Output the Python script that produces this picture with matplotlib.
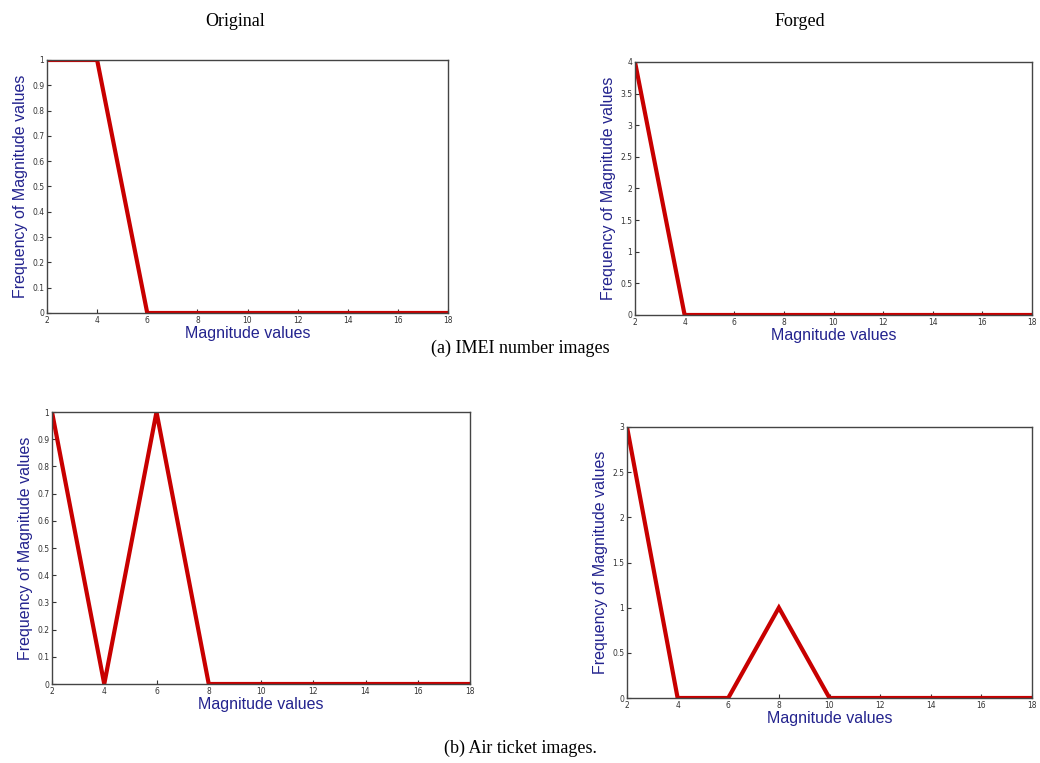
import matplotlib.pyplot as plt
import numpy as np

# magnitude bins shared by all four panels
mag = [2, 4, 6, 8, 10, 12, 14, 16, 18]

imei_orig = [1, 1, 0, 0, 0, 0, 0, 0, 0]
imei_forged = [4, 0, 0, 0, 0, 0, 0, 0, 0]
air_orig = [1, 0, 1, 0, 0, 0, 0, 0, 0]
air_forged = [3, 0, 0, 1, 0, 0, 0, 0, 0]

W, H = 1040, 763
fig = plt.figure(figsize=(W / 100, H / 100), dpi=100)

blue = '#23238e'
red = '#c80000'


def px_axes(l, t, r, b):
    return fig.add_axes([l / W, 1 - b / H, (r - l) / W, (b - t) / H])


def panel(ax, y, ymax, ystep):
    ax.plot(mag, y, color=red, lw=3, solid_joinstyle='miter')
    ax.set_xlim(2, 18)
    ax.set_ylim(0, ymax)
    ax.set_xticks(mag)
    yt = np.arange(0, ymax + ystep / 2, ystep)
    ax.set_yticks(yt)
    ax.set_yticklabels(['%g' % v for v in yt])
    ax.tick_params(direction='in', length=3, labelsize=5.5, colors='#333333', pad=2)
    for s in ax.spines.values():
        s.set_color('#444444')
        s.set_linewidth(1)
    ax.set_xlabel('Magnitude values', color=blue, fontsize=11.5,
                  family='Liberation Sans', labelpad=1)
    ax.set_ylabel('Frequency of Magnitude values', color=blue, fontsize=11.5,
                  family='Liberation Sans', labelpad=3)


ax1 = px_axes(47, 60, 448, 313)
panel(ax1, imei_orig, 1, 0.1)
ax2 = px_axes(635, 62, 1032, 315)
panel(ax2, imei_forged, 4, 0.5)
ax3 = px_axes(52, 412, 470, 684)
panel(ax3, air_orig, 1, 0.1)
ax4 = px_axes(627, 427, 1032, 698)
panel(ax4, air_forged, 3, 0.5)

serif = 'Liberation Serif'
fig.text(235 / W, 1 - 22 / H, 'Original', ha='center', va='center', fontsize=13, family=serif)
fig.text(800 / W, 1 - 22 / H, 'Forged', ha='center', va='center', fontsize=13, family=serif)
fig.text(520 / W, 1 - 348 / H, '(a) IMEI number images', ha='center', va='center',
         fontsize=13, family=serif)
fig.text(520 / W, 1 - 748 / H, '(b) Air ticket images.', ha='center', va='center',
         fontsize=13, family=serif)

fig.savefig('out.png', dpi=100)
